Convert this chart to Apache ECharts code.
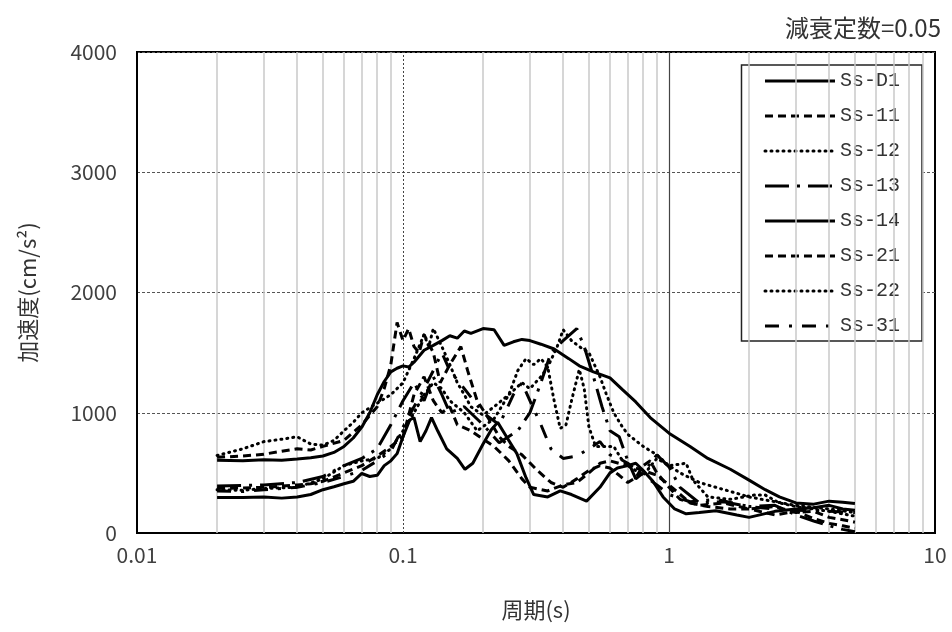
<!DOCTYPE html>
<html>
<head>
<meta charset="utf-8">
<script src="https://cdn.jsdelivr.net/npm/echarts@6/dist/echarts.min.js"></script>
<style>html,body{margin:0;padding:0;background:#fff}#c{width:952px;height:632px}</style>
</head>
<body>
<div id="c"></div>
<script>
// ---- data (period [s], acceleration [cm/s2]) ----
const seriesNames = ['Ss-D1','Ss-11','Ss-12','Ss-13','Ss-14','Ss-21','Ss-22','Ss-31'];
const xTickLabels = [0.01, 0.1, 1, 10];
const yTickLabels = [0, 1000, 2000, 3000, 4000];
const minorGrid = [0.02,0.03,0.04,0.05,0.06,0.07,0.08,0.09,0.2,0.3,0.4,0.5,0.6,0.7,0.8,0.9,2,3,4,5,6,7,8,9];

const ssD1 = [[0.02,605],[0.025,600],[0.03,610],[0.035,605],[0.04,615],[0.045,625],[0.05,640],[0.055,670],[0.06,720],[0.065,790],[0.07,880],[0.075,1000],[0.08,1150],[0.085,1260],[0.09,1340],[0.095,1370],[0.1,1390],[0.105,1380],[0.11,1420],[0.12,1520],[0.13,1560],[0.14,1600],[0.15,1640],[0.16,1620],[0.17,1680],[0.18,1660],[0.2,1700],[0.22,1690],[0.24,1560],[0.26,1590],[0.28,1610],[0.3,1600],[0.33,1570],[0.37,1530],[0.42,1450],[0.46,1390],[0.52,1340],[0.6,1290],[0.67,1190],[0.75,1090],[0.85,960],[1.0,830],[1.2,720],[1.4,620],[1.7,530],[2.0,440],[2.3,360],[2.6,300],[3.0,250],[3.5,240],[4.0,265],[4.5,255],[5.0,245]];
const ss11 = [[0.02,630],[0.025,640],[0.03,655],[0.035,680],[0.04,700],[0.045,690],[0.05,720],[0.06,770],[0.07,900],[0.08,1050],[0.085,1200],[0.09,1400],[0.095,1750],[0.1,1600],[0.105,1700],[0.11,1550],[0.115,1500],[0.12,1650],[0.13,1500],[0.138,1250],[0.15,1400],[0.165,1550],[0.175,1350],[0.19,1100],[0.21,950],[0.23,800],[0.25,720],[0.28,650],[0.32,520],[0.36,420],[0.4,380],[0.45,450],[0.5,520],[0.55,560],[0.6,540],[0.65,480],[0.7,420],[0.75,460],[0.8,560],[0.85,600],[0.9,500],[1.0,380],[1.1,280],[1.3,230],[1.6,250],[2.0,200],[2.5,220],[3.0,170],[3.5,180],[4.0,130],[4.5,110],[5.0,90]];
const ss12 = [[0.02,645],[0.025,700],[0.03,760],[0.035,780],[0.04,800],[0.045,740],[0.05,730],[0.055,770],[0.06,850],[0.065,920],[0.07,1000],[0.08,1080],[0.09,1150],[0.1,1250],[0.11,1450],[0.12,1650],[0.125,1550],[0.13,1700],[0.14,1550],[0.15,1400],[0.16,1250],[0.17,1150],[0.18,1050],[0.2,980],[0.22,1050],[0.25,1150],[0.28,1250],[0.3,1200],[0.33,1300],[0.35,1380],[0.38,1550],[0.4,1690],[0.43,1600],[0.46,1550],[0.5,1500],[0.55,1300],[0.58,1160],[0.62,1000],[0.66,900],[0.7,820],[0.8,720],[0.9,650],[1.0,560],[1.1,500],[1.3,420],[1.5,380],[1.8,330],[2.0,300],[2.5,260],[3.0,230],[4.0,200],[5.0,170]];
const ss13 = [[0.02,390],[0.025,395],[0.03,400],[0.04,420],[0.05,470],[0.06,560],[0.07,620],[0.08,700],[0.09,900],[0.1,1100],[0.11,1250],[0.12,1100],[0.13,1300],[0.14,1150],[0.15,1000],[0.17,1050],[0.2,900],[0.23,750],[0.27,850],[0.3,1000],[0.33,1250],[0.36,1500],[0.4,1600],[0.45,1700],[0.48,1550],[0.52,1300],[0.56,1050],[0.6,850],[0.65,800],[0.7,600],[0.75,450],[0.8,500],[0.9,650],[1.0,550],[1.1,380],[1.3,250],[1.6,260],[2.0,220],[2.5,230],[3.0,150],[3.5,100],[4.0,60],[4.5,30],[5.0,10]];
const ss14 = [[0.02,295],[0.025,295],[0.03,300],[0.035,290],[0.04,300],[0.045,320],[0.05,360],[0.055,385],[0.06,410],[0.065,430],[0.07,495],[0.075,470],[0.08,480],[0.085,560],[0.09,600],[0.095,660],[0.1,800],[0.106,940],[0.11,960],[0.116,760],[0.122,850],[0.128,960],[0.135,850],[0.146,700],[0.16,620],[0.171,530],[0.183,580],[0.2,740],[0.215,860],[0.227,920],[0.245,800],[0.268,660],[0.29,460],[0.31,320],[0.35,300],[0.39,350],[0.43,320],[0.49,265],[0.55,380],[0.6,500],[0.64,540],[0.7,560],[0.75,580],[0.8,520],[0.87,430],[0.95,300],[1.05,200],[1.16,160],[1.3,170],[1.5,185],[1.8,150],[2.0,130],[2.5,180],[3.0,200],[3.5,210],[4.0,230],[4.5,200],[5.0,190]];
const ss21 = [[0.02,370],[0.025,375],[0.03,380],[0.035,390],[0.04,400],[0.045,410],[0.05,430],[0.06,500],[0.07,560],[0.08,640],[0.09,720],[0.1,800],[0.11,1150],[0.12,1300],[0.13,1100],[0.14,1000],[0.15,1050],[0.16,900],[0.18,850],[0.2,780],[0.22,720],[0.25,600],[0.28,450],[0.3,380],[0.35,350],[0.4,400],[0.45,420],[0.5,500],[0.55,580],[0.6,600],[0.7,560],[0.8,520],[0.9,480],[1.0,400],[1.2,250],[1.4,220],[1.7,200],[2.0,200],[2.5,150],[3.0,180],[3.5,120],[4.0,80],[4.5,60],[5.0,40]];
const ss22 = [[0.02,360],[0.025,355],[0.03,370],[0.04,380],[0.05,450],[0.06,560],[0.07,600],[0.08,620],[0.09,700],[0.1,850],[0.11,1000],[0.12,1150],[0.13,1250],[0.14,1200],[0.15,1100],[0.17,1000],[0.19,850],[0.22,950],[0.25,1150],[0.27,1350],[0.29,1450],[0.31,1400],[0.33,1450],[0.35,1380],[0.37,1100],[0.39,870],[0.41,900],[0.43,1100],[0.46,1360],[0.48,1200],[0.5,880],[0.53,720],[0.58,720],[0.62,720],[0.66,620],[0.7,560],[0.8,480],[0.9,620],[1.0,560],[1.16,580],[1.23,440],[1.4,300],[1.7,280],[2.1,316],[2.3,316],[2.6,250],[3.0,220],[4.0,180],[5.0,140]];
const ss31 = [[0.02,350],[0.025,345],[0.03,360],[0.04,380],[0.05,420],[0.06,470],[0.07,520],[0.08,600],[0.09,680],[0.1,880],[0.11,1050],[0.12,1200],[0.13,1350],[0.14,1500],[0.15,1350],[0.17,1200],[0.2,1000],[0.23,900],[0.26,1150],[0.28,1250],[0.3,1100],[0.33,900],[0.36,700],[0.4,620],[0.45,640],[0.5,700],[0.55,760],[0.6,650],[0.65,620],[0.7,580],[0.8,480],[0.9,400],[1.0,320],[1.2,260],[1.5,280],[2.0,220],[2.5,200],[3.0,190],[4.0,180],[5.0,170]];

const seriesData = [ssD1, ss11, ss12, ss13, ss14, ss21, ss22, ss31];
const dashTypes = ['solid',[8,5],[1,5],[24,8,3,8],'solid',[8,5],[1,5],[14,10,3,10]];

const chart = echarts.init(document.getElementById('c'), null, {renderer:'canvas'});
const tickFont = 'Noto Sans CJK JP';

const series = seriesNames.map((n,i)=>({
  name:n, type:'line', data:seriesData[i], symbol:'none', showSymbol:false, z:5,
  lineStyle:{color:'#000', width:3, type:dashTypes[i], cap: Array.isArray(dashTypes[i]) && dashTypes[i][0]===1 ? 'round':'butt'},
  itemStyle:{color:'#000'}, animation:false
}));
// grid lines through the axis scales
series.push({
  name:'grid', type:'line', data:[], silent:true, z:1, animation:false,
  markLine:{silent:true, symbol:'none', animation:false, label:{show:false},
    data:[
      ...minorGrid.map(v=>({xAxis:v, lineStyle:{color:'#c8c8c8', width:1.5, type:'solid'}})),
      {xAxis:0.1, lineStyle:{color:'#444', width:1, type:[2,2]}},
      {xAxis:1, lineStyle:{color:'#444', width:1.2, type:'solid'}}
    ]}
});

chart.setOption({
  animation:false,
  backgroundColor:'#fff',
  title:{text:'減衰定数=0.05', right:6, top:11, textStyle:{fontFamily:tickFont, fontSize:24, fontWeight:'normal', color:'#333'}},
  grid:{left:137, right:17, top:52, bottom:99, show:true, borderColor:'#000', borderWidth:2, backgroundColor:'transparent'},
  legend:{
    data:seriesNames, orient:'vertical', right:30, top:65,
    padding:[6,22,5,22], itemWidth:70, itemHeight:14, itemGap:15,
    backgroundColor:'#fff', borderColor:'#222', borderWidth:1.5, borderRadius:0,
    itemStyle:{opacity:0, borderWidth:0},
    lineStyle:{width:3},
    textStyle:{fontFamily:'Liberation Mono', fontSize:20, color:'#333', lineHeight:20},
    selectedMode:false
  },
  xAxis:{
    type:'log', logBase:10, min:0.01, max:10,
    axisLine:{show:true, lineStyle:{color:'#000', width:2}},
    axisTick:{show:false},
    splitLine:{show:false},
    axisLabel:{margin:12, fontFamily:tickFont, fontSize:21, color:'#404040',
      formatter:v=>{let best=xTickLabels[0];for(const t of xTickLabels){if(Math.abs(Math.log10(t)-Math.log10(v))<Math.abs(Math.log10(best)-Math.log10(v)))best=t;}return String(best);}},
    name:'周期(s)', nameLocation:'middle', nameGap:66,
    nameTextStyle:{fontFamily:tickFont, fontSize:22, color:'#333'}
  },
  yAxis:{
    type:'value', min:yTickLabels[0], max:yTickLabels[yTickLabels.length-1], interval:1000,
    axisLine:{show:true, lineStyle:{color:'#000', width:2}},
    axisTick:{show:false},
    splitLine:{show:true, lineStyle:{color:'#555', width:1, type:[3,2]}},
    axisLabel:{margin:20, fontFamily:tickFont, fontSize:21, color:'#404040', formatter:v=>String(v)},
    name:'加速度(cm/s²)', nameLocation:'middle', nameGap:98, nameRotate:90,
    nameTextStyle:{fontFamily:tickFont, fontSize:22, color:'#333'}
  },
  series:series
});
</script>
</body>
</html>
